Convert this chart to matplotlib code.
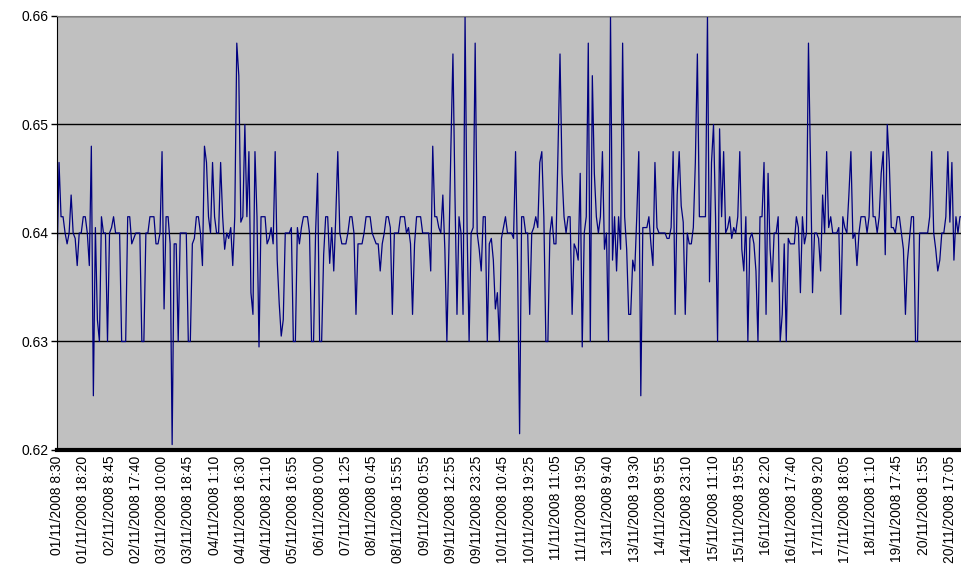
import matplotlib
matplotlib.use("Agg")

import matplotlib.pyplot as plt
import numpy as np

# readings, one list per ~150 px slice of the reference plot
seg1 = [0.637, 0.6465, 0.6415, 0.6415, 0.640, 0.639, 0.640, 0.6435, 0.640, 0.6395,
        0.637, 0.640, 0.640, 0.6415, 0.6415, 0.640, 0.637, 0.648, 0.625, 0.6405,
        0.632, 0.630, 0.6415, 0.640, 0.640, 0.630, 0.640, 0.6405, 0.6415, 0.640,
        0.640, 0.640, 0.630, 0.630, 0.630, 0.6415, 0.6415, 0.639, 0.6395, 0.640,
        0.640, 0.640, 0.630, 0.630, 0.640, 0.640, 0.6415, 0.6415, 0.6415, 0.639,
        0.639, 0.640, 0.6475, 0.633, 0.6415, 0.6415, 0.639, 0.6205, 0.639, 0.639,
        0.630, 0.640, 0.640, 0.640, 0.640, 0.630, 0.630, 0.639, 0.6395, 0.6415,
        0.6415, 0.640, 0.637, 0.648]
seg2 = [0.6465, 0.6415, 0.640, 0.6465, 0.6415, 0.640, 0.640, 0.6465, 0.6415, 0.6385,
        0.640, 0.6395, 0.6405, 0.637, 0.6415, 0.6575, 0.6545, 0.641, 0.6415, 0.650,
        0.6415, 0.6475, 0.6345, 0.6325, 0.6475, 0.6415, 0.6295, 0.6415, 0.6415, 0.6415,
        0.639, 0.6395, 0.6405, 0.639, 0.6475, 0.6375, 0.6335, 0.6305, 0.632, 0.640,
        0.640, 0.640, 0.6405, 0.630, 0.630, 0.6405, 0.639, 0.6405, 0.6415, 0.6415,
        0.6415, 0.640, 0.630, 0.630, 0.640, 0.6455, 0.630, 0.630, 0.638, 0.6415,
        0.6415, 0.6372, 0.6405, 0.6365, 0.6415, 0.6475, 0.640, 0.639, 0.639, 0.639,
        0.640, 0.6415, 0.6415, 0.640]
seg3 = [0.6325, 0.639, 0.639, 0.639, 0.640, 0.6415, 0.6415, 0.6415, 0.640, 0.6395,
        0.639, 0.639, 0.6365, 0.639, 0.640, 0.6415, 0.6415, 0.6405, 0.6325, 0.640,
        0.640, 0.640, 0.6415, 0.6415, 0.6415, 0.640, 0.6405, 0.639, 0.6325, 0.639,
        0.6415, 0.6415, 0.6415, 0.640, 0.640, 0.640, 0.640, 0.6365, 0.648, 0.6415,
        0.6415, 0.6405, 0.640, 0.6435, 0.6385, 0.630, 0.6385, 0.648, 0.6565, 0.6435,
        0.6325, 0.6415, 0.640, 0.6325, 0.660, 0.6405, 0.630, 0.640, 0.6405, 0.6575,
        0.640, 0.6385, 0.6365, 0.6415, 0.6415, 0.630, 0.639, 0.6395, 0.6375, 0.633,
        0.6345, 0.630, 0.6395, 0.6405]
seg4 = [0.6415, 0.640, 0.640, 0.640, 0.6395, 0.6475, 0.637, 0.6215, 0.6415, 0.6415,
        0.640, 0.640, 0.6325, 0.640, 0.6405, 0.6415, 0.6405, 0.6465, 0.6475, 0.6415,
        0.630, 0.630, 0.640, 0.6415, 0.639, 0.639, 0.6475, 0.6565, 0.6455, 0.6415,
        0.640, 0.6415, 0.6415, 0.6325, 0.639, 0.6385, 0.6375, 0.6455, 0.6295, 0.640,
        0.6415, 0.6575, 0.630, 0.6545, 0.6455, 0.6415, 0.640, 0.6415, 0.6475, 0.6385,
        0.640, 0.630, 0.660, 0.6375, 0.6415, 0.6365, 0.6415, 0.6385, 0.6575, 0.6415,
        0.6385, 0.6325, 0.6325, 0.6375, 0.6365, 0.6415, 0.6475, 0.625, 0.6405, 0.6405,
        0.6405, 0.6415, 0.639, 0.637]
seg5 = [0.6465, 0.6405, 0.640, 0.640, 0.640, 0.640, 0.6395, 0.6395, 0.6405, 0.6475,
        0.6325, 0.6435, 0.6475, 0.6425, 0.641, 0.6325, 0.640, 0.639, 0.639, 0.6405,
        0.6465, 0.6565, 0.6415, 0.6415, 0.6415, 0.6415, 0.660, 0.6355, 0.6465, 0.650,
        0.6415, 0.630, 0.6496, 0.6415, 0.6475, 0.640, 0.6405, 0.6415, 0.6395, 0.6405,
        0.640, 0.6415, 0.6475, 0.6385, 0.6365, 0.6415, 0.630, 0.6395, 0.640, 0.639,
        0.6365, 0.630, 0.6415, 0.6415, 0.6465, 0.6325, 0.6455, 0.6385, 0.6355, 0.640,
        0.640, 0.6415, 0.630, 0.6325, 0.639, 0.630, 0.6395, 0.639, 0.639, 0.639,
        0.6415, 0.6405, 0.6345, 0.6415]
seg6 = [0.639, 0.640, 0.6575, 0.6465, 0.6345, 0.640, 0.640, 0.6395, 0.6365, 0.6435,
        0.640, 0.6475, 0.6405, 0.6415, 0.640, 0.640, 0.640, 0.6405, 0.6325, 0.6415,
        0.6405, 0.640, 0.6435, 0.6475, 0.6395, 0.640, 0.637, 0.640, 0.6415, 0.6415,
        0.6415, 0.640, 0.6415, 0.6475, 0.6415, 0.6415, 0.640, 0.6415, 0.6455, 0.6475,
        0.638, 0.650, 0.6465, 0.6405, 0.6405, 0.640, 0.6415, 0.6415, 0.640, 0.6385,
        0.6325, 0.6375, 0.6395, 0.6415, 0.6415, 0.630, 0.630, 0.640, 0.640, 0.640,
        0.640, 0.640, 0.6415, 0.6475, 0.640, 0.6385, 0.6365, 0.6375, 0.640, 0.640,
        0.6415, 0.6475, 0.641, 0.6465, 0.6375, 0.6415, 0.640, 0.6415, 0.6415]

tick_labels = [
    "01/11/2008 8:30", "01/11/2008 18:20", "02/11/2008 8:45", "02/11/2008 17:40",
    "03/11/2008 10:00", "03/11/2008 18:45", "04/11/2008 1:10", "04/11/2008 16:30",
    "04/11/2008 21:10", "05/11/2008 16:55", "06/11/2008 0:00", "07/11/2008 1:25",
    "08/11/2008 0:45", "08/11/2008 15:55", "09/11/2008 0:55", "09/11/2008 12:55",
    "09/11/2008 23:25", "10/11/2008 10:45", "10/11/2008 19:25", "11/11/2008 11:05",
    "11/11/2008 19:50", "13/11/2008 9:40", "13/11/2008 19:30", "14/11/2008 9:55",
    "14/11/2008 23:10", "15/11/2008 11:10", "15/11/2008 19:55", "16/11/2008 2:20",
    "16/11/2008 17:40", "17/11/2008 9:20", "17/11/2008 18:05", "18/11/2008 1:10",
    "19/11/2008 17:45", "20/11/2008 1:55", "20/11/2008 17:05",
]
label_every = 13

values = np.array(seg1 + seg2 + seg3 + seg4 + seg5 + seg6)
x = np.arange(len(values))

plt.rcParams["font.family"] = ["Liberation Sans", "DejaVu Sans"]
fig = plt.figure(figsize=(9.62, 5.88), dpi=100)
ax = fig.add_axes([57 / 962, 138 / 588, 905 / 962, 434 / 588])
ax.set_facecolor("#c0c0c0")

ax.plot(x, values, color="#000080", lw=0.9)

ax.set_ylim(0.62, 0.66)
ax.set_yticks([0.62, 0.63, 0.64, 0.65, 0.66])
ax.set_yticklabels(["0.62", "0.63", "0.64", "0.65", "0.66"], fontsize=10)
ax.yaxis.grid(True, color="black", lw=1)
ax.set_axisbelow(True)

ax.set_xlim(0, len(values) - 1)
ax.set_xticks(x[::label_every][:len(tick_labels)])
ax.set_xticklabels(tick_labels, rotation=90, fontsize=10, va="top", ha="center")
ax.tick_params(axis="x", length=0, pad=4)
ax.tick_params(axis="y", length=4, width=1, pad=2, direction="out")

ax.spines["bottom"].set_linewidth(3)
ax.spines["bottom"].set_color("black")
ax.spines["left"].set_color("black")
ax.spines["top"].set_color("#808080")
ax.spines["right"].set_visible(False)

fig.savefig("out.png", dpi=100)
